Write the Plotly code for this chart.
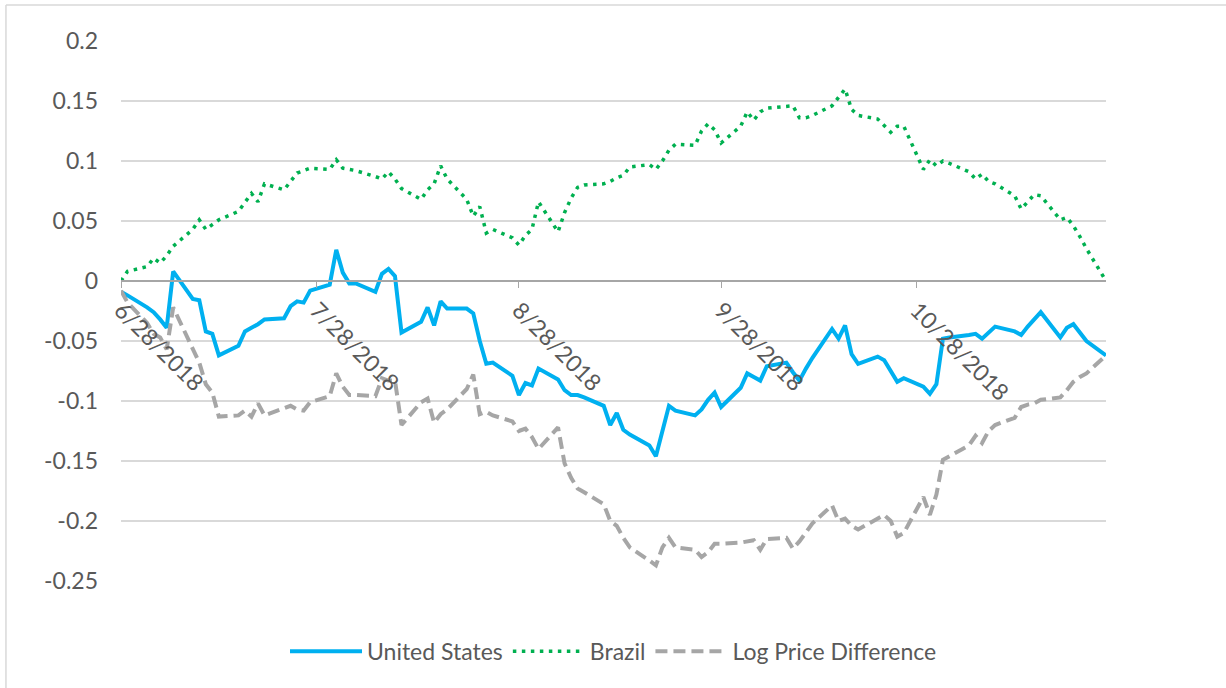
"""Log price paths: United States vs Brazil, with the log price difference."""

import pandas as pd
import plotly.graph_objects as go


# trading days shown on the chart
DATES = pd.bdate_range("2018-06-28", "2018-11-26")

US = [
    -0.009, -0.012,
    -0.022, -0.026, -0.032, -0.039, 0.008, -0.015, -0.016, -0.042, -0.044, -0.062,
    -0.054, -0.042, -0.039, -0.036, -0.032, -0.031, -0.021, -0.017, -0.018, -0.008,
    -0.003, 0.026,
    0.007, -0.002, -0.002, -0.009, 0.006, 0.010, 0.004, -0.043, -0.034, -0.022,
    -0.037, -0.017, -0.023, -0.023, -0.027, -0.050, -0.069, -0.068, -0.079, -0.095,
    -0.085, -0.087, -0.073,
    -0.082, -0.091, -0.095, -0.095, -0.097, -0.104, -0.120, -0.110, -0.124, -0.128,
    -0.137, -0.146, -0.125, -0.104, -0.108, -0.112, -0.107, -0.099, -0.093, -0.105,
    -0.089, -0.077, -0.080, -0.083, -0.071, -0.068, -0.076, -0.083, -0.073, -0.064,
    -0.040, -0.048, -0.037, -0.061, -0.069, -0.063, -0.066, -0.075, -0.084, -0.081,
    -0.088, -0.094, -0.086,
    -0.048, -0.047, -0.045, -0.044, -0.048, -0.043, -0.038, -0.042, -0.045, -0.038,
    -0.032, -0.026, -0.047, -0.039, -0.036, -0.043, -0.050, -0.062,
]

BRAZIL = [
    0.000, 0.008,
    0.012, 0.019, 0.015, 0.021, 0.029, 0.043, 0.051, 0.043, 0.047, 0.051,
    0.058, 0.065, 0.073, 0.066, 0.081, 0.076, 0.083, 0.090, 0.092, 0.094,
    0.093, 0.101,
    0.094, 0.093, 0.092, 0.087, 0.085, 0.091, 0.085, 0.077, 0.068, 0.076,
    0.081, 0.096, 0.085, 0.068, 0.054, 0.062, 0.040, 0.043, 0.036, 0.030,
    0.038, 0.043, 0.066,
    0.041, 0.057, 0.069, 0.078, 0.080, 0.081, 0.083, 0.086, 0.088, 0.095,
    0.097, 0.093, 0.100, 0.109, 0.114, 0.113, 0.125, 0.131, 0.126, 0.115,
    0.129, 0.141, 0.134, 0.141, 0.144, 0.146, 0.146, 0.136, 0.136, 0.138,
    0.146, 0.153, 0.160, 0.143, 0.138, 0.135, 0.129, 0.124, 0.129, 0.129,
    0.093, 0.101, 0.096,
    0.100, 0.098, 0.091, 0.085, 0.089, 0.083, 0.081, 0.071, 0.060, 0.066,
    0.072, 0.071, 0.051, 0.053, 0.046, 0.037, 0.027, 0.000,
]

LOG_DIFF = [
    -0.008, -0.018,
    -0.035, -0.044, -0.047, -0.057, -0.022, -0.058, -0.068, -0.086, -0.093, -0.113,
    -0.112, -0.108, -0.113, -0.102, -0.112, -0.106, -0.104, -0.107, -0.108, -0.101,
    -0.096, -0.077,
    -0.088, -0.095, -0.095, -0.096, -0.081, -0.083, -0.083, -0.120, -0.101, -0.098,
    -0.118, -0.111, -0.107, -0.090, -0.078, -0.111, -0.109, -0.112, -0.117, -0.125,
    -0.123, -0.130, -0.140,
    -0.122, -0.152, -0.164, -0.173, -0.176, -0.186, -0.200, -0.204, -0.214, -0.222,
    -0.233, -0.237, -0.222, -0.214, -0.222, -0.224, -0.230, -0.226, -0.219, -0.219,
    -0.218, -0.217, -0.216, -0.224, -0.215, -0.214, -0.223, -0.217, -0.209, -0.202,
    -0.187, -0.200, -0.198, -0.204, -0.207, -0.198, -0.195, -0.200, -0.213, -0.210,
    -0.180, -0.195, -0.178,
    -0.149, -0.146, -0.137, -0.129, -0.135, -0.125, -0.120, -0.114, -0.105, -0.103,
    -0.102, -0.099, -0.097, -0.091, -0.084, -0.080, -0.077, -0.062,
]

X_TICKS = ["2018-06-28", "2018-07-28", "2018-08-28", "2018-09-28", "2018-10-28"]
X_TICK_TEXT = ["6/28/2018", "7/28/2018", "8/28/2018", "9/28/2018", "10/28/2018"]
Y_TICKS = [0.2, 0.15, 0.1, 0.05, 0, -0.05, -0.1, -0.15, -0.2, -0.25]
Y_TICK_TEXT = ["0.2", "0.15", "0.1", "0.05", "0", "-0.05", "-0.1", "-0.15", "-0.2", "-0.25"]

FONT = dict(family="Lato, Open Sans, sans-serif", size=23, color="#595959")
Y_MIN, Y_MAX = -0.25, 0.2


fig = go.Figure()

fig.add_trace(go.Scatter(
    x=DATES, y=US, mode="lines", name="United States",
    line=dict(color="#00B0F0", width=4),
))
fig.add_trace(go.Scatter(
    x=DATES, y=BRAZIL, mode="lines", name="Brazil",
    line=dict(color="#00B050", width=3.5, dash="3.5px,5.5px"),
))
fig.add_trace(go.Scatter(
    x=DATES, y=LOG_DIFF, mode="lines", name="Log Price Difference",
    line=dict(color="#A6A6A6", width=4, dash="12px,6px"),
))

# outer chart frame (only the left and top edges fall inside the picture)
frame = dict(type="line", xref="paper", yref="paper",
             line=dict(color="#D9D9D9", width=1.5))
fig.add_shape(x0=-0.1168, x1=-0.1168, y0=-0.3, y1=1.0667, **frame)
fig.add_shape(x0=-0.1168, x1=1.2, y0=1.0667, y1=1.0667, **frame)

fig.update_layout(
    width=1226,
    height=688,
    margin=dict(l=121, r=120, t=41, b=107),
    paper_bgcolor="white",
    plot_bgcolor="white",
    font=FONT,
    showlegend=True,
    legend=dict(
        orientation="h", x=0.5, xanchor="center", y=-0.13, yanchor="middle",
        font=FONT, itemwidth=72,
    ),
)

# category axis crosses the value axis at zero
fig.update_xaxes(
    type="date",
    range=["2018-06-28", "2018-11-26"],
    anchor="free",
    position=-Y_MIN / (Y_MAX - Y_MIN),
    tickvals=X_TICKS,
    ticktext=X_TICK_TEXT,
    tickangle=45,
    tickfont=FONT,
    ticks="outside",
    ticklen=6,
    tickcolor="#A6A6A6",
    showline=True,
    linecolor="#A6A6A6",
    linewidth=1.5,
    showgrid=False,
    zeroline=False,
    automargin=False,
)
fig.update_yaxes(
    range=[Y_MIN, Y_MAX],
    tickvals=Y_TICKS,
    ticktext=Y_TICK_TEXT,
    tickfont=FONT,
    ticklabelstandoff=22,
    showgrid=True,
    gridcolor="#D9D9D9",
    gridwidth=1.5,
    zeroline=False,
    showline=False,
    automargin=False,
)

fig.write_html(
    "out.html",
    config={"displayModeBar": False},
    post_script="document.body.style.margin='0';",
)
